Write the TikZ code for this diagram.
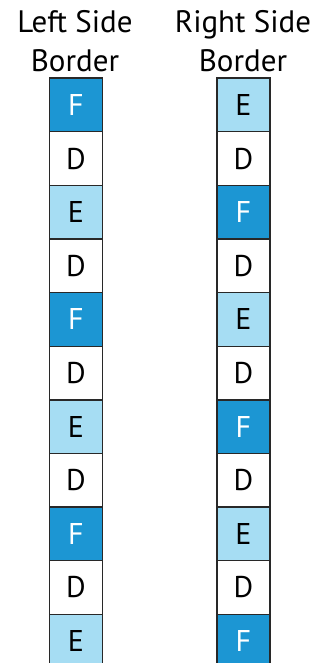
\documentclass[tikz,border=0pt]{standalone}
\usepackage{fontspec}
\setmainfont{PT Sans}
\definecolor{dkblue}{RGB}{28,150,211}
\definecolor{ltblue}{RGB}{166,221,243}
\definecolor{edge}{RGB}{40,40,40}
\begin{document}
\begin{tikzpicture}[x=1pt,y=-1pt,
  cell/.style={draw=edge,line width=1.4pt,minimum width=53pt,minimum height=53.6pt,inner sep=0pt,font=\fontsize{30}{30}\selectfont,anchor=north},
  cF/.style={cell,fill=dkblue,text=white},
  cE/.style={cell,fill=ltblue,text=black},
  cD/.style={cell,fill=white,text=black},
  head/.style={font=\fontsize{31}{31}\selectfont,anchor=base}]
\useasboundingbox (0,0) rectangle (328,663);
\node[head] (l1) at (75,33) {Left Side};
\node[head] (l2) at (75,72) {Border};
\node[head] (r1) at (243,33) {Right Side};
\node[head] (r2) at (243,72) {Border};
\foreach \t [count=\i from 0] in {F,D,E,D,F,D,E,D,F,D,E}{
  \node[c\t] (L\i) at (76,77.5+\i*53.6) {\t};
}
\foreach \t [count=\i from 0] in {E,D,F,D,E,D,F,D,E,D,F}{
  \node[c\t] (R\i) at (243.5,77.5+\i*53.6) {\t};
}
\end{tikzpicture}
\end{document}
